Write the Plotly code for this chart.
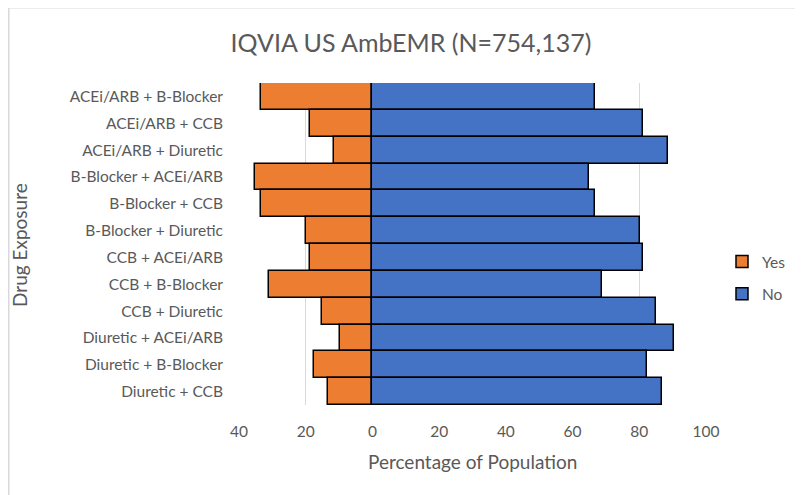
import plotly.graph_objects as go

categories = [
    "ACEi/ARB + B-Blocker", "ACEi/ARB + CCB", "ACEi/ARB + Diuretic",
    "B-Blocker + ACEi/ARB", "B-Blocker + CCB", "B-Blocker + Diuretic",
    "CCB + ACEi/ARB", "CCB + B-Blocker", "CCB + Diuretic",
    "Diuretic + ACEi/ARB", "Diuretic + B-Blocker", "Diuretic + CCB",
]
yes_pct = [33.4, 18.8, 11.4, 35.2, 33.4, 19.9, 18.8, 31.1, 15.1, 9.6, 17.6, 13.3]
no_pct = [66.6, 81.2, 88.6, 64.8, 66.6, 80.1, 81.2, 68.9, 84.9, 90.4, 82.4, 86.7]
tick_vals = [-40, -20, 0, 20, 40, 60, 80, 100]
tick_text = ["40", "20", "0", "20", "40", "60", "80", "100"]

FONT = "Lato, Open Sans, sans-serif"
GRAY = "#595959"

fig = go.Figure()
fig.add_trace(go.Bar(
    y=categories, x=[-v for v in yes_pct], name="Yes", orientation="h",
    legendgroup="a",
    marker=dict(color="#ED7D31", line=dict(color="black", width=1.5)),
))
fig.add_trace(go.Bar(
    y=categories, x=no_pct, name="No", orientation="h",
    legendgroup="b",
    marker=dict(color="#4472C4", line=dict(color="black", width=1.5)),
))

# figure coordinates (page is offset by the 8px body margin)
OFF = 8
W, H = 803, 495
L, T = 239 - OFF, 83 - OFF
pw, ph = 467, 322
R, B = W - L - pw, H - T - ph

def fx(px):
    return (px - OFF - L) / pw

def fy(py):
    return 1 - (py - OFF - T) / ph

fig.update_layout(
    width=W, height=H,
    margin=dict(l=L, r=R, t=T, b=B, autoexpand=False),
    paper_bgcolor="white", plot_bgcolor="white",
    barmode="relative", bargap=0,
    font=dict(family=FONT, color=GRAY, size=15),
    title=dict(text="IQVIA US AmbEMR (N=754,137)", x=(411 - OFF) / W, xanchor="center",
               y=1 - (43 - OFF) / H, yanchor="middle",
               font=dict(size=25, color=GRAY, family=FONT)),
    xaxis=dict(range=[-40, 100], tickvals=tick_vals, ticktext=tick_text,
               showgrid=True, gridcolor="#d9d9d9", gridwidth=1,
               zeroline=False, showline=False, ticks="", automargin=False,
               ticklabelstandoff=15, tickfont=dict(size=15.5, color=GRAY)),
    yaxis=dict(autorange="reversed", showgrid=False, zeroline=False,
               showline=False, ticks="", ticklabelstandoff=15, automargin=False,
               tickfont=dict(size=15.5, color=GRAY)),
    legend=dict(x=fx(722), xanchor="left", y=fy(245), yanchor="top",
                itemwidth=30, font=dict(size=15.5, color=GRAY),
                tracegroupgap=9, traceorder="grouped", bgcolor="rgba(0,0,0,0)"),
    annotations=[
        dict(text="Percentage of Population", xref="paper", yref="paper",
             x=0.5, y=fy(461), xanchor="center", yanchor="middle",
             showarrow=False, font=dict(size=19, color=GRAY)),
        dict(text="Drug Exposure", xref="paper", yref="paper",
             x=fx(20), y=fy(245), xanchor="center", yanchor="middle",
             textangle=-90, showarrow=False, font=dict(size=19, color=GRAY)),
    ],
    shapes=[
        dict(type="rect", xref="paper", yref="paper",
             x0=fx(8.75), x1=fx(W + 30), y0=fy(H + 30), y1=fy(7.75),
             line=dict(color="#d9d9d9", width=1.5), fillcolor="rgba(0,0,0,0)", layer="below"),
    ],
)

fig.write_html("out.html")
